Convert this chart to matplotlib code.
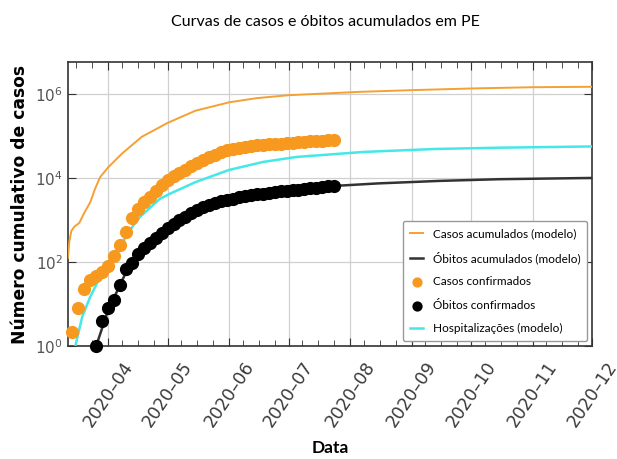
import numpy as np
import pandas as pd
import matplotlib
matplotlib.use("Agg")
import matplotlib.pyplot as plt
import matplotlib.dates as mdates
from matplotlib.ticker import LogLocator, NullLocator

# dados (log10 dos valores)
datas_obs = pd.date_range("2020-03-14", periods=45, freq="3D")
casos_conf_log = [0.33, 0.9, 1.35, 1.57, 1.67, 1.75, 1.9, 2.15, 2.4, 2.72,
                  3.05, 3.27, 3.42, 3.55, 3.7, 3.84, 3.95, 4.04, 4.12, 4.2,
                  4.28, 4.36, 4.43, 4.49, 4.55, 4.61, 4.66, 4.69, 4.72, 4.74,
                  4.76, 4.78, 4.79, 4.8, 4.81, 4.82, 4.83, 4.84, 4.85, 4.86,
                  4.87, 4.88, 4.89, 4.9, 4.91]
obitos_conf_log = [0.0, 0.6, 0.9, 1.1, 1.45, 1.83, 1.98, 2.18, 2.33, 2.45,
                   2.57, 2.68, 2.8, 2.9, 2.99, 3.08, 3.16, 3.24, 3.3, 3.35,
                   3.4, 3.44, 3.48, 3.51, 3.54, 3.57, 3.59, 3.61, 3.63, 3.65,
                   3.67, 3.68, 3.7, 3.71, 3.72, 3.74, 3.75, 3.77, 3.78, 3.8,
                   3.81]

datas_casos_mod = ["2020-03-11 18:00", "2020-03-12 12:00", "2020-03-13 12:00", "2020-03-15 00:00",
                   "2020-03-17 12:00", "2020-03-20 00:00", "2020-03-23 00:00", "2020-03-25 12:00",
                   "2020-03-28", "2020-04-01", "2020-04-08", "2020-04-18", "2020-05-01",
                   "2020-05-15", "2020-06-01", "2020-06-15", "2020-07-01", "2020-08-06",
                   "2020-09-01", "2020-10-01", "2020-11-01", "2020-12-01"]
casos_mod_log = [2.1, 2.5, 2.74, 2.84, 2.93, 3.17, 3.42, 3.75, 4.02, 4.25,
                 4.58, 4.98, 5.31, 5.6, 5.8, 5.9, 5.97, 6.05, 6.09, 6.13,
                 6.16, 6.17]

datas_obitos_mod = ["2020-03-26", "2020-04-01", "2020-04-10", "2020-04-20", "2020-05-01",
                    "2020-05-15", "2020-06-01", "2020-06-15", "2020-07-01", "2020-07-24",
                    "2020-08-15", "2020-09-15", "2020-10-15", "2020-11-15", "2020-12-01"]
obitos_mod_log = [0.0, 0.85, 1.75, 2.38, 2.8, 3.22, 3.5, 3.61, 3.7, 3.81,
                  3.87, 3.93, 3.97, 3.99, 4.0]

datas_hosp = ["2020-03-15 12:00", "2020-03-19", "2020-03-23", "2020-03-28", "2020-04-01",
              "2020-04-07", "2020-04-12", "2020-04-17", "2020-04-27", "2020-05-02",
              "2020-05-15", "2020-06-01", "2020-06-18", "2020-07-05", "2020-08-08",
              "2020-09-13", "2020-10-15", "2020-12-01"]
hosp_log = [0.0, 0.7, 1.17, 1.64, 1.97, 2.36, 2.76, 3.07, 3.5, 3.62,
            3.9, 4.19, 4.38, 4.5, 4.62, 4.69, 4.72, 4.75]

laranja = "#F5A033"
ciano = "#45E8E8"


def datas(lista):
    return pd.to_datetime(lista, format="ISO8601")


fig = plt.figure(figsize=(6.17, 4.59), dpi=100)
ax = fig.add_axes([0.1102, 0.2462, 0.8493, 0.6187])

ax.plot(datas(datas_casos_mod), 10 ** np.array(casos_mod_log),
        color=laranja, lw=1.4, label="Casos acumulados (modelo)", zorder=3)
ax.plot(datas(datas_obitos_mod), 10 ** np.array(obitos_mod_log),
        color="#333333", lw=1.8, label="Óbitos acumulados (modelo)", zorder=3)
ax.scatter(datas_obs, 10 ** np.array(casos_conf_log), s=72, color="#F7991F",
           label="Casos confirmados", zorder=4, clip_on=False)
ax.scatter(datas_obs[4:], 10 ** np.array(obitos_conf_log), s=72, color="black",
           label="Óbitos confirmados", zorder=4, clip_on=False)
ax.plot(datas(datas_hosp), 10 ** np.array(hosp_log),
        color=ciano, lw=1.8, label="Hospitalizações (modelo)", zorder=3.5)

ax.set_yscale("log")
ax.set_ylim(1, 10 ** 6.76)
ax.set_xlim(pd.Timestamp("2020-03-11 19:00"), pd.Timestamp("2020-12-01"))
ax.yaxis.set_major_locator(LogLocator(base=100))
ax.yaxis.set_minor_locator(NullLocator())
ax.xaxis.set_major_locator(mdates.MonthLocator())
ax.xaxis.set_minor_locator(mdates.DayLocator(bymonthday=[8, 16, 24]))
ax.xaxis.set_major_formatter(mdates.DateFormatter("%Y\u2013%m"))

ax.grid(True, which="major", color="#d0d0d0", lw=0.9)
ax.tick_params(which="both", direction="in", top=True, right=True, colors="#333333")
ax.tick_params(which="major", length=6)
ax.tick_params(which="minor", length=4)
ax.tick_params(axis="y", labelsize=11, labelcolor="#555555")
ax.tick_params(axis="x", pad=9)
plt.setp(ax.get_xticklabels(), rotation=56, ha="center", fontsize=12.5, color="#3a3a3a")
for s in ax.spines.values():
    s.set_color("#333333")
    s.set_linewidth(1.2)

ax.set_xlabel("Data", fontsize=12.5, fontweight="bold", family="Lato", labelpad=7)
ax.set_ylabel("Número cumulativo de casos", fontsize=12.3, fontweight="bold", labelpad=5)
fig.text(0.527, 0.952, "Curvas de casos e óbitos acumulados em PE", ha="center",
         va="center", fontsize=11.5, family="Lato", color="black")

leg = ax.legend(loc="lower right", frameon=True, fancybox=True,
                edgecolor="#999999", framealpha=1, handlelength=1.1, markerscale=0.75,
                borderaxespad=0.4, labelspacing=1.05, handletextpad=0.8, borderpad=0.6,
                prop={"family": "Lato", "size": 8.5})

fig.savefig("out.png", dpi=100)
